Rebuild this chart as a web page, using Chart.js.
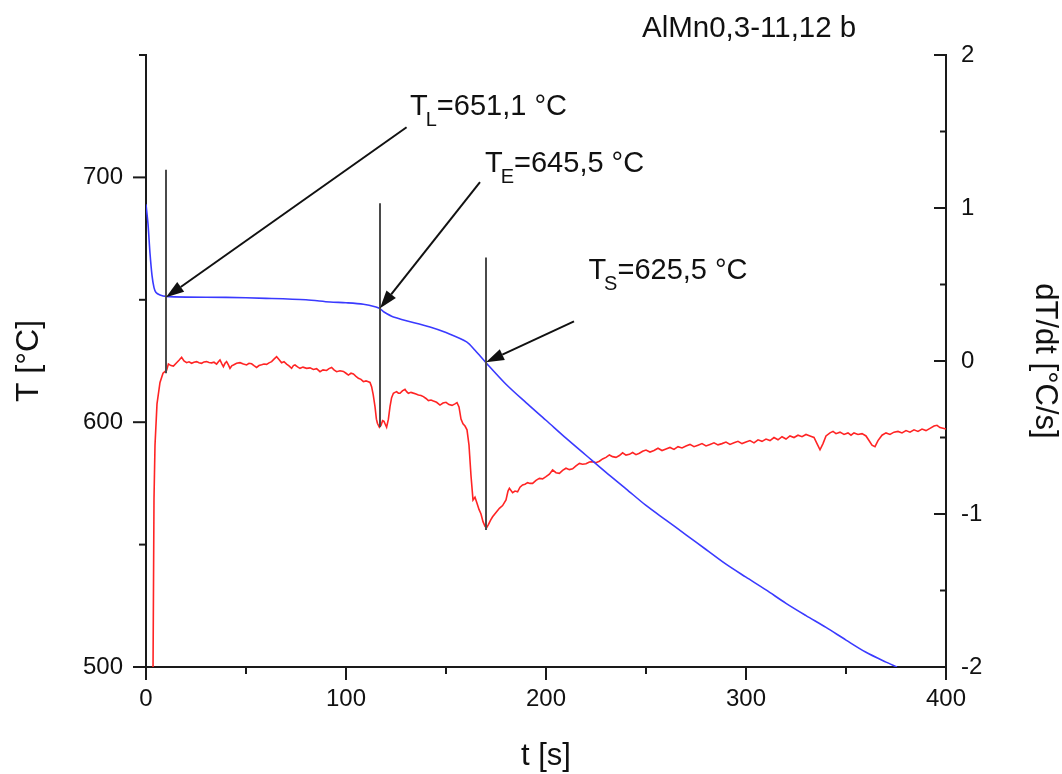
<!DOCTYPE html>
<html>
<head>
<meta charset="utf-8">
<script src="https://cdn.jsdelivr.net/npm/chart.js@4"></script>
<style>
html,body{margin:0;padding:0;background:#fff;}
canvas{display:block;}
</style>
</head>
<body>
<canvas id="c" width="1062" height="774"></canvas>
<script>
// ---- data ----
const chartTitle = "AlMn0,3-11,12 b";
const xTicks = [0, 50, 100, 150, 200, 250, 300, 350, 400];
const yTicks = [500, 550, 600, 650, 700, 750];
const y2Ticks = [-2, -1.5, -1, -0.5, 0, 0.5, 1, 1.5, 2];

// Temperature T [°C] (blue, left axis)
const tempTime = [0,1,2,3,4,5,7,10,20,40,60,80,92,100,108.7,115,117,119,123.7,142,150,160.3,164.5,170,180,190,200,210,220,230,240,250,260,270,280,290,300,310,320,330,340,350,360,370,375.5];
const tempVal  = [689,681,669,660,655,653,652,651.4,651.1,651,650.6,650,649.1,648.8,648.2,647.1,646.4,645,643,638.9,636.6,632.8,629.4,624.3,615.5,608,600.8,593.5,586.5,579.5,572.8,566,560,554,548,542,536.7,531.5,526,521,516.2,511,506,502,500];

// Cooling rate dT/dt [°C/s] (red, right axis)
const rateTime = [3.5,4,4.5,5.5,7,8.5,10.3,11.2,12.5,13.7,15.3,16.5,17.8,19,20.3,21.5,22.8,24,25.3,26.5,27.8,29,30.3,31.5,32.8,34,35.3,36.2,37,38,38.7,39.5,40.3,41.2,42,43,43.7,45.3,47,48.7,50.3,51.5,52.8,54,55.3,56.5,57.8,59,60.3,61.5,62.8,64,65.3,66.5,67.8,69,70.3,71.5,72.8,73.7,74.5,75.8,77,78.5,80.3,82,83.7,85.3,87,88.5,90.3,91.5,92.8,94,95.3,97,98.7,100,101.2,102.5,103.7,105,106.2,107.5,108.7,110,111.2,112,112.8,113.6,114.5,115.2,115.7,116.7,117.5,118.3,119,119.5,120.3,121.2,122,122.8,123.7,124.5,125.3,126.2,127,128.2,129.5,130.3,131.2,132.5,133.7,135,136.2,137.5,138.7,140,141.2,142.5,143.7,145.3,147,148.5,150,151.5,153,154.5,155.5,156.5,157.5,158.5,159.5,160.5,161.5,162.5,163.5,164.5,165.5,166.5,167.5,168.5,169.5,170.3,171.2,172.3,173.3,175,176.7,178.3,180,181,181.7,183.3,184.5,185.8,187,188.3,189.5,190.8,192,193.3,195,196.7,198.3,200,201.7,203.3,205,206.7,208.3,210,211.7,213.3,215,216.7,218.3,220,221.7,223.3,225,226.7,228.3,230,231.7,233.3,235,236.7,238.3,240,241.7,243.3,245,246.7,248.3,250,252,254,256,258,260,262,264,266,268,270,272,274,276,278,280,282,284,286,288,290,292,294,296,298,300,302,304,306,308,310,312,314,316,318,320,322,324,326,328,330,332,334,335.5,337,338.5,340,342,343.5,345,347,349,351,352.5,354,356,358,360,361.5,363,364.5,366,368,370,372,374,376,378,380,382,384,386,388,390,392,394,395.5,397,398.5,400];
const rateVal  = [-2.05,-0.9,-0.55,-0.28,-0.14,-0.08,-0.06,-0.02,-0.03,-0.033,-0.011,0.005,0.024,0.0,-0.011,-0.005,-0.015,-0.008,-0.004,-0.012,-0.015,-0.006,-0.004,-0.01,-0.012,-0.008,-0.02,-0.005,0.007,-0.02,-0.037,-0.015,-0.004,-0.025,-0.048,-0.03,-0.026,-0.015,-0.011,-0.02,-0.026,-0.015,-0.018,-0.03,-0.042,-0.03,-0.025,-0.02,-0.022,-0.012,-0.004,0.012,0.028,0.01,-0.011,-0.005,-0.02,-0.032,-0.048,-0.03,-0.026,-0.038,-0.048,-0.04,-0.048,-0.045,-0.055,-0.05,-0.07,-0.058,-0.062,-0.05,-0.042,-0.058,-0.07,-0.064,-0.068,-0.08,-0.092,-0.08,-0.085,-0.1,-0.113,-0.12,-0.135,-0.13,-0.135,-0.14,-0.168,-0.22,-0.298,-0.38,-0.407,-0.433,-0.42,-0.39,-0.395,-0.41,-0.433,-0.38,-0.298,-0.24,-0.211,-0.205,-0.2,-0.21,-0.211,-0.195,-0.185,-0.2,-0.211,-0.205,-0.21,-0.215,-0.222,-0.225,-0.233,-0.245,-0.259,-0.255,-0.262,-0.27,-0.288,-0.275,-0.27,-0.285,-0.29,-0.28,-0.272,-0.3,-0.38,-0.41,-0.425,-0.45,-0.55,-0.75,-0.908,-0.89,-0.93,-0.97,-1.0,-1.05,-1.08,-1.09,-1.07,-1.04,-1.018,-0.99,-0.963,-0.945,-0.908,-0.85,-0.832,-0.861,-0.85,-0.855,-0.825,-0.81,-0.805,-0.795,-0.8,-0.8,-0.78,-0.767,-0.77,-0.756,-0.74,-0.712,-0.73,-0.734,-0.715,-0.701,-0.71,-0.705,-0.685,-0.669,-0.675,-0.672,-0.66,-0.658,-0.665,-0.655,-0.64,-0.63,-0.614,-0.625,-0.63,-0.618,-0.6,-0.615,-0.61,-0.598,-0.612,-0.603,-0.59,-0.582,-0.595,-0.585,-0.57,-0.585,-0.575,-0.565,-0.578,-0.56,-0.568,-0.555,-0.545,-0.56,-0.55,-0.54,-0.555,-0.545,-0.535,-0.548,-0.54,-0.53,-0.545,-0.535,-0.525,-0.54,-0.53,-0.52,-0.535,-0.515,-0.525,-0.51,-0.52,-0.5,-0.515,-0.495,-0.51,-0.49,-0.5,-0.485,-0.495,-0.48,-0.49,-0.5,-0.54,-0.58,-0.54,-0.49,-0.47,-0.46,-0.475,-0.465,-0.48,-0.47,-0.485,-0.47,-0.48,-0.475,-0.49,-0.52,-0.55,-0.56,-0.52,-0.485,-0.47,-0.48,-0.465,-0.46,-0.47,-0.455,-0.465,-0.45,-0.46,-0.445,-0.455,-0.44,-0.425,-0.42,-0.435,-0.44,-0.445];

// Marker lines (time, T from, T to) and arrows / labels in data units (t, T)
const markerTime = [10, 117, 170];
const markerTop = [703.1, 689.4, 667.3];
const markerBottom = [620, 598, 556];
const arrowFromT = [130.3, 167, 214];
const arrowFromV = [720.5, 698.1, 641.2];
const arrowToT = [10, 117, 170];
const arrowToV = [651, 646.5, 624.5];
const labelMain = ["T", "T", "T"];
const labelSub = ["L", "E", "S"];
const labelRest = ["=651,1 \u00B0C", "=645,5 \u00B0C", "=625,5 \u00B0C"];
const labelT = [132, 169.5, 221.2];
const labelV = [725.3, 702.2, 658.6];

// ---- chart ----
const FONT = "'Liberation Sans', Arial, sans-serif";
const AX = '#1a1a1a';

const tempData = tempTime.map((t, i) => ({x: t, y: tempVal[i]}));
const rateData = rateTime.map((t, i) => ({x: t, y: rateVal[i]}));

const drawExtras = {
  id: 'extras',
  afterDatasetsDraw(chart) {
    const {ctx, scales: {x, y}} = chart;
    ctx.save();
    // vertical marker lines
    ctx.strokeStyle = '#4a4a4a';
    ctx.lineWidth = 2;
    markerTime.forEach((t, i) => {
      const px = x.getPixelForValue(t);
      ctx.beginPath();
      ctx.moveTo(px, y.getPixelForValue(markerTop[i]));
      ctx.lineTo(px, y.getPixelForValue(markerBottom[i]));
      ctx.stroke();
    });
    // arrows
    ctx.strokeStyle = '#111';
    ctx.fillStyle = '#111';
    arrowFromT.forEach((t, i) => {
      const x0 = x.getPixelForValue(t), y0 = y.getPixelForValue(arrowFromV[i]);
      const x1 = x.getPixelForValue(arrowToT[i]), y1 = y.getPixelForValue(arrowToV[i]);
      const ang = Math.atan2(y1 - y0, x1 - x0);
      const L = 18, W = 6;
      const bx = x1 - L * Math.cos(ang), by = y1 - L * Math.sin(ang);
      ctx.lineWidth = 2;
      ctx.beginPath();
      ctx.moveTo(x0, y0);
      ctx.lineTo(bx, by);
      ctx.stroke();
      ctx.beginPath();
      ctx.moveTo(x1, y1);
      ctx.lineTo(bx + W * Math.sin(ang), by - W * Math.cos(ang));
      ctx.lineTo(bx - W * Math.sin(ang), by + W * Math.cos(ang));
      ctx.closePath();
      ctx.fill();
    });
    // labels
    ctx.fillStyle = '#111';
    ctx.textBaseline = 'alphabetic';
    ctx.textAlign = 'left';
    labelT.forEach((t, i) => {
      let px = x.getPixelForValue(t);
      const py = y.getPixelForValue(labelV[i]);
      ctx.font = '29px ' + FONT;
      ctx.fillText(labelMain[i], px, py);
      px += ctx.measureText(labelMain[i]).width - 2;
      ctx.font = '20px ' + FONT;
      ctx.fillText(labelSub[i], px, py + 11);
      px += ctx.measureText(labelSub[i]).width;
      ctx.font = '29px ' + FONT;
      ctx.fillText(labelRest[i], px, py);
    });
    // title
    ctx.font = '29.5px ' + FONT;
    ctx.fillText(chartTitle, x.getPixelForValue(248), chart.chartArea.top - 18);
    ctx.restore();
  },
  afterDraw(chart) {
    const {ctx, scales} = chart;
    ctx.save();
    ctx.strokeStyle = AX;
    ctx.lineWidth = 2;
    const isMajorX = v => v % 100 === 0;
    const isMajorY = v => v % 100 === 0;
    const isMajorY2 = v => Number.isInteger(v);
    const xs = scales.x, ys = scales.y, y2 = scales.y2;
    const area = chart.chartArea;
    xs.ticks.forEach(tk => {
      const px = xs.getPixelForValue(tk.value);
      const len = isMajorX(tk.value) ? 13 : 7;
      ctx.beginPath(); ctx.moveTo(px, area.bottom); ctx.lineTo(px, area.bottom + len); ctx.stroke();
    });
    ys.ticks.forEach(tk => {
      const py = ys.getPixelForValue(tk.value);
      const len = isMajorY(tk.value) ? 13 : 7;
      ctx.beginPath(); ctx.moveTo(area.left, py); ctx.lineTo(area.left - len, py); ctx.stroke();
    });
    y2.ticks.forEach(tk => {
      const py = y2.getPixelForValue(tk.value);
      const len = isMajorY2(tk.value) ? 12 : 6;
      ctx.beginPath(); ctx.moveTo(area.right, py); ctx.lineTo(area.right - len, py); ctx.stroke();
    });
    ctx.restore();
  }
};

new Chart(document.getElementById('c'), {
  type: 'line',
  data: {
    datasets: [
      {
        label: 'T',
        data: tempData,
        yAxisID: 'y',
        borderColor: '#3a3aff',
        borderWidth: 1.6,
        pointRadius: 0,
        tension: 0.3,
        fill: false
      },
      {
        label: 'dT/dt',
        data: rateData,
        yAxisID: 'y2',
        borderColor: '#ff2424',
        borderWidth: 1.6,
        pointRadius: 0,
        tension: 0,
        fill: false
      }
    ]
  },
  options: {
    responsive: false,
    animation: false,
    layout: {padding: {top: 55, left: 0, right: 0, bottom: 0}},
    plugins: {legend: {display: false}, tooltip: {enabled: false}},
    scales: {
      x: {
        type: 'linear',
        min: 0, max: 400,
        afterBuildTicks: s => { s.ticks = xTicks.map(v => ({value: v})); },
        afterFit: s => { s.height = 107; },
        grid: {drawOnChartArea: false, drawTicks: false},
        border: {display: true, color: AX, width: 2},
        ticks: {
          font: {family: FONT, size: 24},
          color: '#111',
          padding: 18,
          maxRotation: 0,
          autoSkip: false,
          callback: v => (v % 100 === 0 ? String(v) : '')
        },
        title: {display: true, text: 't [s]', font: {family: FONT, size: 31, lineHeight: 1.1}, color: '#111', padding: {top: 0, bottom: 0}}
      },
      y: {
        position: 'left',
        min: 500, max: 750,
        afterBuildTicks: s => { s.ticks = yTicks.map(v => ({value: v})); },
        afterFit: s => { s.width = 146; },
        grid: {drawOnChartArea: false, drawTicks: false},
        border: {display: true, color: AX, width: 2},
        ticks: {
          font: {family: FONT, size: 24},
          color: '#111',
          padding: 23,
          autoSkip: false,
          callback: v => (v % 100 === 0 ? String(v) : '')
        },
        title: {display: true, text: 'T [\u00B0C]', font: {family: FONT, size: 32, lineHeight: 1.1}, color: '#111', padding: {top: 12, bottom: 0}}
      },
      y2: {
        position: 'right',
        min: -2, max: 2,
        afterBuildTicks: s => { s.ticks = y2Ticks.map(v => ({value: v})); },
        afterFit: s => { s.width = 116; },
        grid: {drawOnChartArea: false, drawTicks: false},
        border: {display: true, color: AX, width: 2},
        ticks: {
          font: {family: FONT, size: 24},
          color: '#111',
          padding: 15,
          autoSkip: false,
          callback: v => (Number.isInteger(v) ? String(v) : '')
        },
        title: {display: true, text: 'dT/dt [\u00B0C/s]', font: {family: FONT, size: 31, lineHeight: 1.1}, color: '#111', padding: {top: 0, bottom: 0}}
      }
    }
  },
  plugins: [drawExtras]
});
</script>
</body>
</html>
